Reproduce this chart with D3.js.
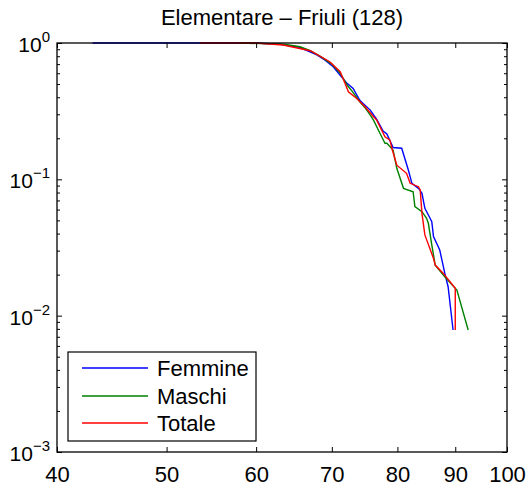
<!DOCTYPE html>
<html>
<head>
<meta charset="utf-8">
<script src="https://cdn.jsdelivr.net/npm/d3@7"></script>
<style>
  body { margin: 0; background: #fff; }
  text { font-family: Arial, "Liberation Sans", sans-serif; fill: #000; }
</style>
</head>
<body>
<script>
    //consts
        const width = 529;
        const height = 491;
        const plotLeft = 57, plotRight = 507, plotTop = 43, plotBottom = 452;

    //data - ages and survival fraction
        const femmineAge = [43.0, 60.0, 63.0, 65.5, 66.8, 67.9, 69.0, 70.2, 71.2, 72.2, 73.1, 74.1, 74.6, 75.7, 76.7, 77.7, 78.3, 79.3, 80.7, 81.8, 82.4, 83.6, 84.1, 84.6, 85.5, 85.8, 86.1, 87.2, 88.1, 88.7, 89.6];
        const femmineP   = [1, 1, 0.98, 0.93, 0.87, 0.817, 0.75, 0.67, 0.58, 0.506, 0.465, 0.38, 0.36, 0.322, 0.275, 0.226, 0.215, 0.171, 0.169, 0.117, 0.0935, 0.085, 0.079, 0.0613, 0.0518, 0.0489, 0.038, 0.0303, 0.0205, 0.0163, 0.00785];

        const maschiAge = [58.0, 63.5, 65.6, 67.0, 68.5, 70.0, 71.2, 72.2, 73.0, 74.1, 75.0, 75.7, 76.2, 77.2, 78.0, 78.3, 79.3, 79.9, 81.0, 82.6, 82.9, 84.1, 84.9, 85.2, 85.8, 86.4, 88.1, 90.3, 92.4];
        const maschiP   = [1, 0.98, 0.939, 0.878, 0.79, 0.70, 0.60, 0.492, 0.44, 0.371, 0.33, 0.296, 0.272, 0.218, 0.184, 0.184, 0.164, 0.1205, 0.0859, 0.0811, 0.063, 0.0579, 0.0518, 0.0476, 0.033, 0.0235, 0.0193, 0.0154, 0.00785];

        const totaleAge = [53.5, 60.0, 63.4, 67.0, 69.7, 71.2, 71.9, 72.4, 73.6, 74.9, 76.2, 76.7, 78.0, 78.8, 79.1, 79.9, 81.5, 82.1, 83.5, 83.8, 84.1, 84.6, 86.1, 86.4, 87.8, 90.0, 90.0];
        const totaleP   = [1, 1, 0.967, 0.878, 0.729, 0.616, 0.506, 0.439, 0.393, 0.341, 0.288, 0.272, 0.205, 0.194, 0.169, 0.127, 0.1107, 0.0935, 0.0883, 0.0835, 0.0563, 0.0391, 0.0263, 0.0235, 0.0205, 0.0159, 0.00785];

        const seriesNames  = ["Femmine", "Maschi", "Totale"];
        const seriesColors = ["#0000ff", "#008000", "#ff0000"];
        const xTicks = [40, 50, 60, 70, 80, 90, 100];
        const yTicks = [1e-3, 1e-2, 1e-1, 1];
        const yTickExp = ["\u22123", "\u22122", "\u22121", "0"];
        const titleText = "Elementare \u2013 Friuli (128)";

        const series = [
            femmineAge.map((a, i) => [a, femmineP[i]]),
            maschiAge.map((a, i) => [a, maschiP[i]]),
            totaleAge.map((a, i) => [a, totaleP[i]])
        ];

    //minor ticks on the log axis
        const yMinor = [];
        [-3, -2, -1].forEach(e => { for (let k = 2; k <= 9; k++) yMinor.push(k * Math.pow(10, e)); });

    //scales
        const xScale = d3.scaleLog().domain([40, 100]).range([plotLeft, plotRight]);
        const yScale = d3.scaleLog().domain([1e-3, 1]).range([plotBottom, plotTop]);

    //svg
        const svg = d3.select("body").append("svg")
                    .attr("width", width)
                    .attr("height", height);

        svg.append("rect").attr("width", width).attr("height", height).attr("fill", "#fff");

    //lines
        const line = d3.line()
                       .x(d => xScale(d[0]))
                       .y(d => yScale(d[1]));

        svg.selectAll("path.curve")
            .data(series)
            .enter()
            .append("path")
            .attr("class", "curve")
            .attr("d", line)
            .attr("fill", "none")
            .attr("stroke", (d, i) => seriesColors[i])
            .attr("stroke-width", 1.4);

    //axes - ticks point inward like matlab
        const styleAxis = g => {
            g.select(".domain").remove();
            g.selectAll(".tick line").attr("stroke", "#000");
            g.selectAll("text").attr("font-size", 22).attr("fill", "#000");
        };

        svg.append("g")
            .attr("transform", "translate(0," + plotBottom + ")")
            .call(d3.axisBottom(xScale).tickValues(xTicks).tickSize(-5).tickPadding(9).tickFormat(d3.format("d")))
            .call(styleAxis)
            .selectAll("text").attr("dy", "0.95em");

        svg.append("g")
            .attr("transform", "translate(0," + plotTop + ")")
            .call(d3.axisTop(xScale).tickValues(xTicks).tickSize(-5).tickFormat(""))
            .call(styleAxis);

        svg.append("g")
            .attr("transform", "translate(" + plotLeft + ",0)")
            .call(d3.axisLeft(yScale).tickValues(yTicks).tickSize(-5).tickFormat(""))
            .call(styleAxis);
        svg.append("g")
            .attr("transform", "translate(" + plotLeft + ",0)")
            .call(d3.axisLeft(yScale).tickValues(yMinor).tickSize(-3).tickFormat(""))
            .call(styleAxis);
        svg.append("g")
            .attr("transform", "translate(" + plotRight + ",0)")
            .call(d3.axisRight(yScale).tickValues(yTicks).tickSize(-5).tickFormat(""))
            .call(styleAxis);
        svg.append("g")
            .attr("transform", "translate(" + plotRight + ",0)")
            .call(d3.axisRight(yScale).tickValues(yMinor).tickSize(-3).tickFormat(""))
            .call(styleAxis);

    //y labels as 10^n
        const yLab = svg.selectAll("text.ylab")
            .data(yTicks)
            .enter()
            .append("text")
            .attr("class", "ylab")
            .attr("x", 50)
            .attr("y", d => yScale(d) + 9)
            .attr("text-anchor", "end");
        yLab.append("tspan").attr("font-size", 21).text("10");
        yLab.append("tspan").attr("font-size", 15).attr("dy", -10).text((d, i) => yTickExp[i]);

    //frame
        svg.append("rect")
            .attr("x", plotLeft).attr("y", plotTop)
            .attr("width", plotRight - plotLeft).attr("height", plotBottom - plotTop)
            .attr("fill", "none")
            .attr("stroke", "#000")
            .attr("stroke-width", 1.3);

    //title
        svg.append("text")
            .attr("x", (plotLeft + plotRight) / 2)
            .attr("y", 25)
            .attr("text-anchor", "middle")
            .attr("font-size", 22)
            .text(titleText);

    //legend
        const legend = svg.append("g");
        legend.append("rect")
            .attr("x", 68).attr("y", 352)
            .attr("width", 188).attr("height", 89)
            .attr("fill", "#fff")
            .attr("stroke", "#000")
            .attr("stroke-width", 1.2);

        const rowY = [368, 396, 423];
        const rows = legend.selectAll("g.row")
            .data(seriesNames)
            .enter()
            .append("g")
            .attr("class", "row")
            .attr("transform", (d, i) => "translate(0," + rowY[i] + ")");
        rows.append("line")
            .attr("x1", 82).attr("x2", 148)
            .attr("stroke", (d, i) => seriesColors[i])
            .attr("stroke-width", 1.5);
        rows.append("text")
            .attr("x", 157)
            .attr("y", 8)
            .attr("font-size", 22)
            .text(d => d);
</script>
</body>
</html>
